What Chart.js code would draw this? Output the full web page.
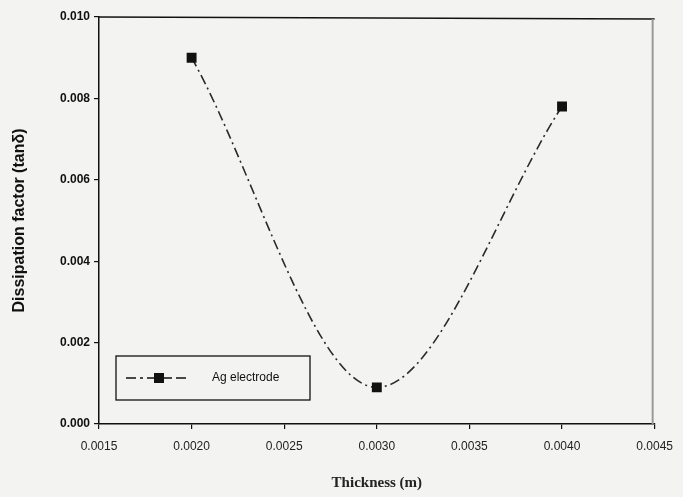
<!DOCTYPE html>
<html>
<head>
<meta charset="utf-8">
<script src="https://cdn.jsdelivr.net/npm/chart.js@4.4.1/dist/chart.umd.min.js"></script>
<style>
  html, body { margin: 0; padding: 0; background: #f3f3f1; }
  #wrap { width: 683px; height: 497px; position: relative; }
</style>
</head>
<body>
<div id="wrap"><canvas id="js--chart" width="683" height="497"></canvas></div>
<script>
// data
const dikte = [0.0020, 0.0030, 0.0040];
const tanDelta = [0.0090, 0.0009, 0.0078];
const serieNaam = "Ag electrode";
const xTitel = "Thickness (m)";
const yTitel = "Dissipation factor (tan\u03b4)";

const punten = dikte.map((x, i) => ({ x: x, y: tanDelta[i] }));

// kader + legenda in de grafiek
const kaderPlugin = {
    id: "kader",
    afterDraw(chart) {
        const ctx = chart.ctx;
        const a = chart.chartArea;
        ctx.save();
        // boven
        ctx.strokeStyle = "#111";
        ctx.lineWidth = 1.5;
        ctx.beginPath();
        ctx.moveTo(a.left, a.top);
        ctx.lineTo(a.right, a.top + 2);
        ctx.stroke();
        // rechts (grijs)
        ctx.strokeStyle = "#999";
        ctx.lineWidth = 2;
        ctx.beginPath();
        ctx.moveTo(a.right - 2, a.top + 2);
        ctx.lineTo(a.right - 2, a.bottom);
        ctx.stroke();

        // legenda
        const lx = a.left + 17, ly = a.bottom - 68, lw = 194, lh = 44;
        ctx.strokeStyle = "#111";
        ctx.lineWidth = 1.3;
        ctx.strokeRect(lx, ly, lw, lh);
        const my = ly + lh / 2;
        ctx.lineWidth = 1.5;
        ctx.beginPath();
        ctx.moveTo(lx + 10, my); ctx.lineTo(lx + 20, my);
        ctx.moveTo(lx + 24, my); ctx.lineTo(lx + 27, my);
        ctx.moveTo(lx + 31, my); ctx.lineTo(lx + 56, my);
        ctx.moveTo(lx + 60, my); ctx.lineTo(lx + 70, my);
        ctx.stroke();
        ctx.fillStyle = "#111";
        ctx.fillRect(lx + 38, my - 5, 10, 10);
        ctx.font = "12px 'Liberation Sans', Arial, sans-serif";
        ctx.textBaseline = "middle";
        ctx.fillText(serieNaam, lx + 96, my);
        ctx.restore();
    }
};

const grafiek = document.getElementById("js--chart");

new Chart(grafiek, {
    type: "line",
    data: {
        datasets: [{
            label: serieNaam,
            data: punten,
            borderColor: "#2a2a2a",
            borderWidth: 1.6,
            borderDash: [10, 4, 2, 4],
            cubicInterpolationMode: "monotone",
            pointStyle: "rect",
            pointRadius: 7,
            pointBackgroundColor: "#111",
            pointBorderColor: "#111",
            pointBorderWidth: 0
        }]
    },
    options: {
        responsive: false,
        animation: false,
        layout: { padding: { left: 10, right: 26, top: 17, bottom: 0 } },
        plugins: {
            legend: { display: false },
            tooltip: { enabled: false }
        },
        scales: {
            x: {
                type: "linear",
                min: 0.0015,
                max: 0.0045,
                afterFit(scale) { scale.height = 73; },
                border: { color: "#111", width: 1.5 },
                grid: { drawOnChartArea: false, tickLength: 5, color: "#111", lineWidth: 1.2 },
                ticks: {
                    stepSize: 0.0005,
                    padding: 10,
                    color: "#222",
                    font: { family: "'Liberation Sans', Arial, sans-serif", size: 12 },
                    callback: v => v.toFixed(4)
                },
                title: {
                    display: true,
                    text: xTitel,
                    color: "#222",
                    font: { family: "'Liberation Serif', 'Times New Roman', serif", size: 15, weight: "bold" },
                    padding: { top: 4, bottom: 5 }
                }
            },
            y: {
                min: 0,
                max: 0.010,
                afterFit(scale) { scale.width = 89; },
                border: { color: "#111", width: 1.5 },
                grid: { drawOnChartArea: false, tickLength: 5, color: "#111", lineWidth: 1.2 },
                ticks: {
                    stepSize: 0.002,
                    padding: 4,
                    color: "#111",
                    font: { family: "'Liberation Sans', Arial, sans-serif", size: 12, weight: "bold" },
                    callback: v => v.toFixed(3)
                },
                title: {
                    display: true,
                    text: yTitel,
                    color: "#111",
                    font: { family: "'Liberation Sans', Arial, sans-serif", size: 16, weight: "bold" },
                    padding: { top: 0, bottom: 4 }
                }
            }
        }
    },
    plugins: [kaderPlugin]
});
</script>
</body>
</html>
